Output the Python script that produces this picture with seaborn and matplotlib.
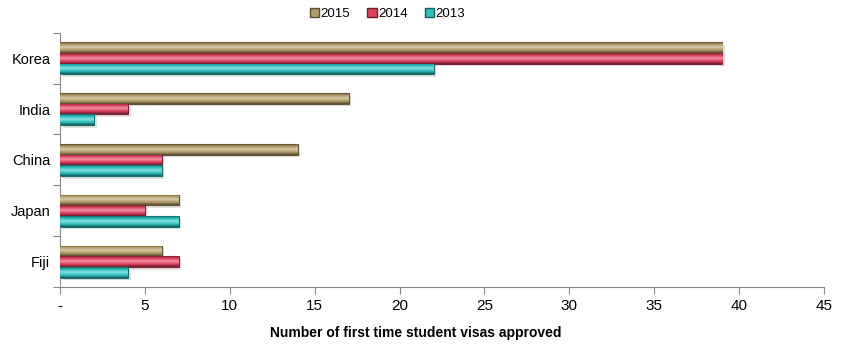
import numpy as np
import pandas as pd
import seaborn as sns
import matplotlib.pyplot as plt
from matplotlib.colors import to_rgb
from matplotlib.patches import Patch

countries = ["Korea", "India", "China", "Japan", "Fiji"]
years = ["2015", "2014", "2013"]
v2015 = [39, 17, 14, 7, 6]
v2014 = [39, 4, 6, 5, 7]
v2013 = [22, 2, 6, 7, 4]
xticks = [0, 5, 10, 15, 20, 25, 30, 35, 40, 45]
xticklabels = ["-", "5", "10", "15", "20", "25", "30", "35", "40", "45"]

colors = {"2015": "#B49C68", "2014": "#E2405F", "2013": "#2CC2C2"}

df = pd.DataFrame({
    "country": countries * 3,
    "year": ["2015"] * 5 + ["2014"] * 5 + ["2013"] * 5,
    "visas": v2015 + v2014 + v2013,
})

plt.rcParams["font.family"] = ["Liberation Sans", "DejaVu Sans"]
fig = plt.figure(figsize=(8.46, 3.53), dpi=100)
ax = fig.add_axes([0.071, 0.187, 0.903, 0.72])

sns.barplot(data=df, y="country", x="visas", hue="year", order=countries,
            hue_order=years, palette=colors, orient="h", width=0.63,
            ax=ax, legend=False, saturation=1)


def shade(c, f):
    r = np.array(to_rgb(c))
    if f >= 0:
        return tuple(r + (1 - r) * f)
    return tuple(r * (1 + f))


# cylinder-like gradient on each bar
grad = np.array([-0.4, -0.15, 0.05, 0.2, 0.45, 0.3, 0.1, -0.05, -0.25, -0.45])
for cont, yr in zip(ax.containers, years):
    base = colors[yr]
    img = np.array([[shade(base, f)] for f in grad])
    for p in cont.patches:
        x0, y0 = p.get_x(), p.get_y()
        w, h = p.get_width(), p.get_height()
        # soft shadow
        ax.add_patch(plt.Rectangle((x0 + 0.15, y0 + h * 0.25), w, h, color="#000000",
                                   alpha=0.12, lw=0, zorder=1))
        im = ax.imshow(img, extent=[x0, x0 + w, y0 + h, y0], aspect="auto",
                       interpolation="bilinear", zorder=3)
        im.set_clip_path(p)
        p.set_edgecolor(shade(base, -0.45))
        p.set_linewidth(0.8)
        p.set_zorder(2)

ax.set_xlim(0, 45)
ax.set_ylim(4.5, -0.5)
ax.set_xticks(xticks)
ax.set_xticklabels(xticklabels, fontsize=11)
ax.set_yticks(np.arange(-0.5, 5, 1))
ax.set_yticklabels([])
ax.set_yticks(range(5), minor=True)
ax.set_yticklabels(countries, minor=True, fontsize=10.5)
ax.tick_params(axis="y", which="minor", length=0, pad=7)
ax.tick_params(axis="y", which="major", length=5, color="#888888", direction="out")
ax.tick_params(axis="x", length=5, color="#888888", pad=4, direction="out")
ax.set_ylabel("")
ax.set_xlabel("Number of first time student visas approved", fontsize=10,
              fontweight="bold")
ax.xaxis.set_label_coords(0.466, -0.155)
for s in ["top", "right"]:
    ax.spines[s].set_visible(False)
for s in ["left", "bottom"]:
    ax.spines[s].set_color("#888888")

handles = [Patch(facecolor=colors[y], edgecolor=shade(colors[y], -0.5), label=y)
           for y in years]
fig.legend(handles=handles, loc="upper center", bbox_to_anchor=(0.458, 1.012), ncol=3,
           frameon=False, fontsize=9.5, handlelength=0.7, handleheight=0.7,
           handletextpad=0.1, columnspacing=1.3)

fig.savefig("out.png", dpi=100)
